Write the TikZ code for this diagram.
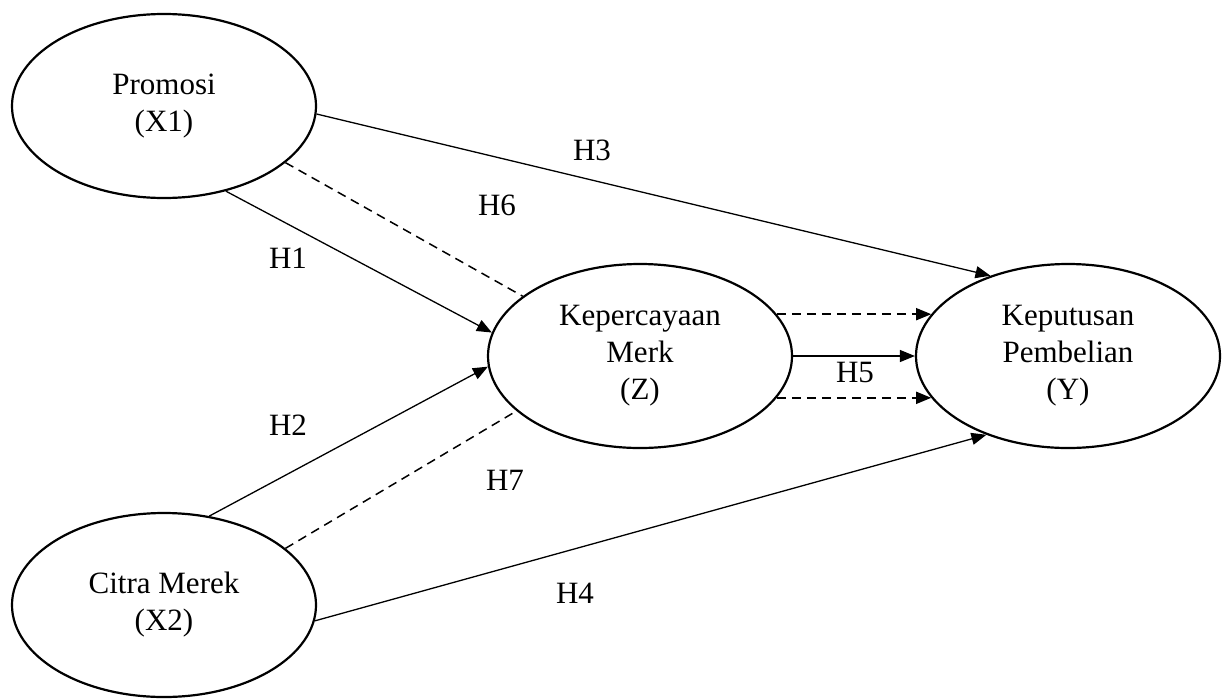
\documentclass[tikz,border=0pt]{standalone}
\usepackage{fontspec}
\setmainfont{Liberation Serif}
\usetikzlibrary{shapes.geometric,arrows.meta}
\begin{document}
\begin{tikzpicture}[x=1pt,y=-1pt,
  var/.style={ellipse,draw,line width=2.2pt,minimum width=304pt,minimum height=184pt,inner sep=0pt,align=center,font=\fontsize{31}{37}\selectfont},
  lbl/.style={font=\fontsize{31}{36}\selectfont,inner sep=0pt},
  conn/.style={line width=1.3pt},
  arr/.style={conn,-{Triangle[length=15pt,width=12pt]}},
  dsh/.style={conn,line width=1.5pt,dash pattern=on 9pt off 6pt}]
\useasboundingbox (0,0) rectangle (1222,699);
\node[var] (X1) at (164,106) {Promosi\\(X1)};
\node[var] (X2) at (164,605) {Citra Merek\\(X2)};
\node[var] (Z) at (640,356) {Kepercayaan\\Merk\\(Z)};
\node[var] (Y) at (1068,356) {Keputusan\\Pembelian\\(Y)};
% connectors
\draw[arr] (X1.-3) -- (Y.134);
\draw[dsh] (X1.-25) -- (Z.153);
\draw[arr] (X1.-54) -- (Z.171);
\draw[arr] (X2.63) -- (Z.184);
\draw[dsh] (X2.25) -- (Z.204);
\draw[arr] (X2.-6) -- (Y.224);
\draw[arr,dsh] (Z.17) -- (Z.17 -| Y.163);
\draw[arr] (Z.east) -- (Y.west);
\draw[arr,dsh] (Z.-17) -- (Z.-17 -| Y.197);
% labels
\node[lbl] (h3) at (592,150) {H3};
\node[lbl] (h6) at (497,205) {H6};
\node[lbl] (h1) at (288,258) {H1};
\node[lbl] (h2) at (288,425) {H2};
\node[lbl] (h7) at (505,480) {H7};
\node[lbl] (h4) at (575,593) {H4};
\node[lbl] (h5) at (855,372) {H5};
\end{tikzpicture}
\end{document}
